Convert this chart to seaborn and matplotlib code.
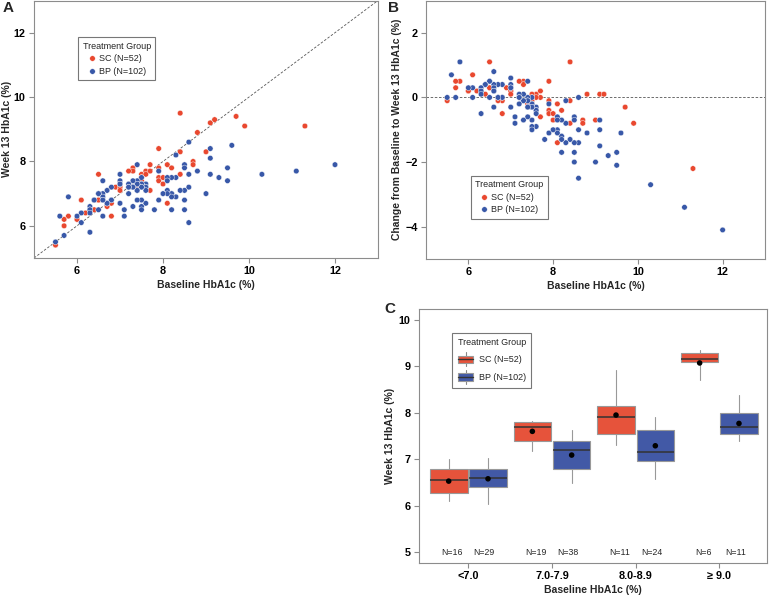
import matplotlib
matplotlib.use("Agg")
import numpy as np
import pandas as pd
import matplotlib.pyplot as plt
import seaborn as sns
from matplotlib.legend_handler import HandlerBase
from matplotlib.patches import Rectangle, Patch
from matplotlib.lines import Line2D

# baseline and week 13 HbA1c (%) per patient
sc_baseline = [6.5, 6.5, 6.5, 6.1, 6.8, 6.7, 6.8, 6.4, 6.2, 5.8, 6.0, 6.0, 5.7, 5.7, 5.5, 6.9,
               7.0, 7.0, 7.0, 7.3, 7.3, 7.2, 7.6, 7.7, 7.5, 7.6, 7.5, 7.9, 7.9, 7.5, 7.4, 7.7, 7.9, 7.7, 7.9,
               8.4, 8.8, 8.4, 8.7, 8.7, 8.1, 8.2, 8.4, 8.0, 8.0, 8.1,
               9.1, 9.2, 9.7, 9.9, 11.3, 9.0]
sc_week13 = [7.6, 6.8, 6.8, 6.8, 6.7, 6.6, 6.3, 6.5, 6.4, 6.3, 6.2, 6.2, 6.2, 6.0, 5.4, 7.2,
             7.2, 7.2, 7.1, 7.8, 7.7, 7.7, 7.7, 7.7, 7.6, 7.6, 7.5, 7.5, 7.4, 7.4, 7.2, 7.1, 8.4, 7.9, 7.8,
             9.5, 8.9, 8.3, 8.0, 7.9, 7.9, 7.8, 7.6, 7.5, 7.3, 6.7,
             9.2, 9.3, 9.4, 9.1, 9.1, 8.3]

bp_baseline = [6.8, 6.8, 6.8, 6.7, 6.7, 6.7, 6.6, 6.6, 6.6, 6.6, 6.6, 6.6, 6.5, 6.5, 6.5, 6.4, 6.4,
               6.3, 6.3, 6.3, 6.3, 6.3, 6.1, 6.1, 6.0, 5.8, 5.6, 5.7, 5.5,
               7.9, 7.9, 7.8, 7.6, 7.6, 7.6, 7.6, 7.6, 7.5, 7.5, 7.5, 7.5, 7.5, 7.5, 7.5, 7.5,
               7.4, 7.4, 7.4, 7.4, 7.4, 7.4, 7.4, 7.3, 7.3, 7.3, 7.3, 7.2, 7.2, 7.2, 7.2,
               7.1, 7.1, 7.0, 7.0, 7.0, 7.0, 7.0,
               8.8, 8.6, 8.6, 8.6, 8.6, 8.5, 8.5, 8.5, 8.5, 8.5, 8.4, 8.3, 8.3, 8.3,
               8.2, 8.2, 8.2, 8.2, 8.2, 8.1, 8.1, 8.1, 8.1, 8.0,
               12.0, 11.1, 10.3, 9.6, 9.5, 9.5, 9.3, 9.0, 9.1, 9.1, 9.1]
bp_week13 = [7.2, 6.8, 6.8, 7.1, 6.7, 6.7, 7.4, 7.0, 6.9, 6.8, 6.8, 6.3, 7.0, 7.0, 6.5, 6.8, 6.8,
             6.6, 6.5, 6.5, 6.4, 5.8, 6.4, 6.1, 6.3, 6.9, 6.3, 5.7, 5.5,
             7.7, 6.8, 6.5, 7.3, 7.2, 7.2, 7.1, 6.7, 7.5, 7.3, 7.3, 7.2, 7.2, 6.8, 6.6, 6.5,
             7.9, 7.4, 7.3, 7.3, 7.1, 7.1, 6.8, 7.4, 7.2, 7.2, 6.6, 7.3, 7.2, 7.2, 7.0,
             6.5, 6.3, 7.6, 7.4, 7.3, 7.3, 6.7,
             7.7, 8.6, 7.6, 7.2, 6.1, 7.9, 7.8, 7.1, 6.8, 6.5, 7.1, 8.2, 7.5, 6.9,
             7.5, 7.0, 7.0, 6.9, 6.5, 7.5, 7.4, 7.1, 7.0, 7.0,
             7.9, 7.7, 7.6, 8.5, 7.8, 7.4, 7.5, 7.0, 8.4, 8.1, 7.6]

groups = ["SC (N=52)", "BP (N=102)"]

# panel C: box summaries by baseline category
categories = ["<7.0", "7.0-7.9", "8.0-8.9", "\u2265 9.0"]
sc_n = [16, 19, 11, 6]
bp_n = [29, 38, 24, 11]
sc_lo = [6.10, 7.18, 7.30, 8.70]
sc_q1 = [6.28, 7.40, 7.54, 9.09]
sc_med = [6.55, 7.70, 7.90, 9.16]
sc_q3 = [6.80, 7.80, 8.15, 9.28]
sc_hi = [7.00, 7.83, 8.91, 9.35]
sc_mean = [6.53, 7.60, 7.95, 9.07]
bp_lo = [6.04, 6.50, 6.58, 7.40]
bp_q1 = [6.40, 6.80, 6.97, 7.55]
bp_med = [6.60, 7.19, 7.15, 7.70]
bp_q3 = [6.80, 7.40, 7.63, 7.99]
bp_hi = [7.02, 7.63, 7.90, 8.39]
bp_mean = [6.58, 7.09, 7.29, 7.77]

dot_red = "#e9482f"
dot_blue = "#3858a8"
box_red = "#e6533b"
box_blue = "#4259a6"
frame_gray = "#8c8c8c"

sns.set_theme(style="ticks")
plt.rcParams["font.family"] = ["Liberation Sans", "DejaVu Sans"]
plt.rcParams.update({
    "axes.edgecolor": frame_gray, "axes.linewidth": 0.8,
    "xtick.color": frame_gray, "ytick.color": frame_gray,
    "xtick.labelcolor": "black", "ytick.labelcolor": "black",
    "xtick.major.size": 3.5, "ytick.major.size": 3.5,
    "xtick.major.width": 0.8, "ytick.major.width": 0.8,
    "xtick.major.pad": 2, "ytick.major.pad": 2.5,
})

df = pd.DataFrame({
    "group": [groups[0]] * len(sc_baseline) + [groups[1]] * len(bp_baseline),
    "baseline": sc_baseline + bp_baseline,
    "week13": sc_week13 + bp_week13,
})
df["change"] = df["week13"] - df["baseline"]
pal = {groups[0]: dot_red, groups[1]: dot_blue}

fig = plt.figure(figsize=(7.71, 5.97), dpi=100)
W, H = 771, 597


def add_ax(l, r, t, b):
    return fig.add_axes([l / W, 1 - b / H, (r - l) / W, (b - t) / H])


axA = add_ax(34, 378, 0.5, 258)
axB = add_ax(426, 765, 0.5, 259)
axC = add_ax(419, 767, 309, 563)

bold = dict(fontsize=7.5, fontweight="bold")


def dot_legend(ax, anchor):
    handles = [Line2D([], [], ls="", marker="o", ms=4, color=pal[g], mec="white", mew=0.3) for g in groups]
    leg = ax.legend(handles, groups, title="Treatment Group", loc="upper left",
                    bbox_to_anchor=anchor, fontsize=6.5, title_fontsize=6.5,
                    frameon=True, fancybox=False, edgecolor="#777777", framealpha=1,
                    handlelength=1.0, handletextpad=0.3, borderpad=0.5, labelspacing=0.4)
    leg.get_frame().set_linewidth(0.8)


# panel A
sns.scatterplot(data=df, x="baseline", y="week13", hue="group", palette=pal, s=16,
                edgecolor="white", linewidth=0.3, legend=False, ax=axA, zorder=3)
axA.axline((5, 5), slope=1, ls=(0, (3, 2)), color="#555555", lw=0.6, zorder=2)
axA.set_xlim(5, 13)
axA.set_ylim(5, 13)
axA.set_xticks([6, 8, 10, 12])
axA.set_yticks([6, 8, 10, 12])
axA.set_xlabel("Baseline HbA1c (%)", labelpad=3, **bold)
axA.set_ylabel("Week 13 HbA1c (%)", labelpad=1, **bold)
dot_legend(axA, (0.115, 0.875))

# panel B
sns.scatterplot(data=df, x="baseline", y="change", hue="group", palette=pal, s=16,
                edgecolor="white", linewidth=0.3, legend=False, ax=axB, zorder=3)
axB.axhline(0, ls=(0, (3, 2)), color="#555555", lw=0.6, zorder=2)
axB.set_xlim(5, 13)
axB.set_ylim(-5, 3)
axB.set_xticks([6, 8, 10, 12])
axB.set_yticks([-4, -2, 0, 2])
axB.set_xlabel("Baseline HbA1c (%)", labelpad=3, **bold)
axB.set_ylabel("Change from Baseline to Week 13 HbA1c (%)", labelpad=2, **bold)
dot_legend(axB, (0.118, 0.34))

# panel C
offset = 0.235
boxw = 0.45
for lo, q1, med, q3, hi, mean, col, sign in [
        (sc_lo, sc_q1, sc_med, sc_q3, sc_hi, sc_mean, box_red, -1),
        (bp_lo, bp_q1, bp_med, bp_q3, bp_hi, bp_mean, box_blue, 1)]:
    stats = [dict(whislo=lo[i], q1=q1[i], med=med[i], q3=q3[i], whishi=hi[i], fliers=[])
             for i in range(len(categories))]
    pos = np.arange(len(categories)) + sign * offset
    axC.bxp(stats, positions=pos, widths=boxw, patch_artist=True, showcaps=False,
            boxprops=dict(facecolor=col, edgecolor="#999999", linewidth=0.8),
            medianprops=dict(color="#333333", linewidth=1.1),
            whiskerprops=dict(color="#999999", linewidth=0.8), manage_ticks=False)
    sns.scatterplot(x=pos, y=mean, color="black", s=16, edgecolor="none", ax=axC, zorder=4)

for i in range(len(categories)):
    axC.text(i - 0.19, 5.0, f"N={sc_n[i]}", ha="center", va="center", fontsize=6.3)
    axC.text(i + 0.19, 5.0, f"N={bp_n[i]}", ha="center", va="center", fontsize=6.3)

axC.set_xlim(-0.59, 3.57)
axC.set_ylim(4.77, 10.23)
axC.set_xticks(range(len(categories)))
axC.set_xticklabels(categories)
axC.set_yticks([5, 6, 7, 8, 9, 10])
axC.set_xlabel("Baseline HbA1c (%)", labelpad=3, **bold)
axC.set_ylabel("Week 13 HbA1c (%)", labelpad=3, **bold)


class BoxHandler(HandlerBase):
    def create_artists(self, legend, orig_handle, xdescent, ydescent, width, height, fontsize, trans):
        x0, y0 = -xdescent, -ydescent
        cx, cy = x0 + width / 2, y0 + height / 2
        bh = height * 0.62
        whisk = [Line2D([cx, cx], [y0 - height * 0.1, y0 + height * 1.1], color="#888888", lw=0.8)]
        rect = Rectangle((x0, cy - bh / 2), width, bh, facecolor=orig_handle.get_facecolor(),
                         edgecolor="#999999", lw=0.8)
        medl = Line2D([x0, x0 + width], [cy, cy], color="#333333", lw=1.0)
        arts = whisk + [rect, medl]
        for a in arts:
            a.set_transform(trans)
        return arts


box_handles = [Patch(facecolor=box_red), Patch(facecolor=box_blue)]
legC = axC.legend(box_handles, groups, title="Treatment Group", loc="upper left",
                  bbox_to_anchor=(0.083, 0.925), fontsize=6.5, title_fontsize=6.5,
                  handler_map={Patch: BoxHandler()}, frameon=True, fancybox=False,
                  edgecolor="#777777", framealpha=1, handlelength=1.7, handleheight=1.6,
                  handletextpad=0.6, borderpad=0.6, labelspacing=0.7)
legC.get_frame().set_linewidth(0.8)

for ax in (axA, axB, axC):
    for lab in ax.get_xticklabels() + ax.get_yticklabels():
        lab.set_fontweight("bold")
        lab.set_fontsize(7.8)
    for sp in ax.spines.values():
        sp.set_visible(True)

fig.text(3 / W, 1 - 1 / H, "A", fontsize=11, fontweight="bold", va="top", ha="left")
fig.text(388 / W, 1 - 1 / H, "B", fontsize=11, fontweight="bold", va="top", ha="left")
fig.text(384 / W, 1 - 302 / H, "C", fontsize=11, fontweight="bold", va="top", ha="left")

fig.savefig("out.png", dpi=100)
